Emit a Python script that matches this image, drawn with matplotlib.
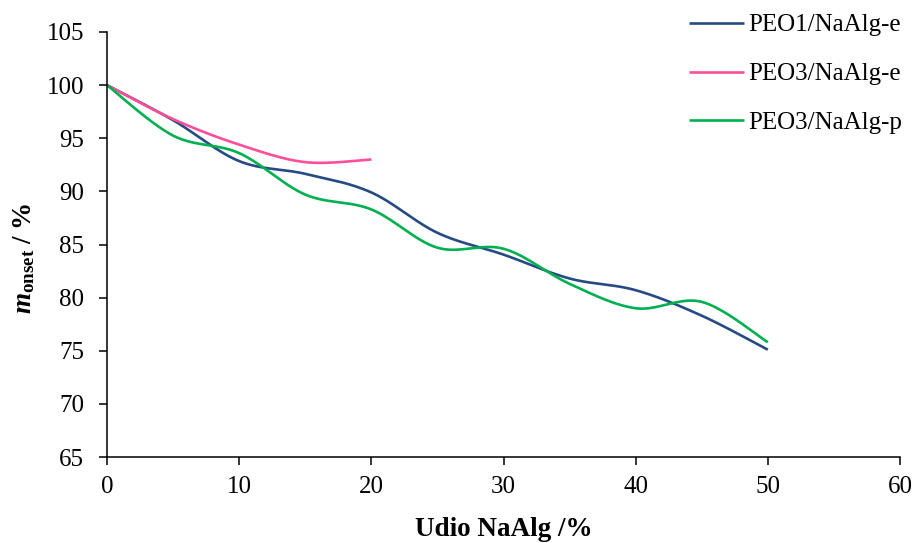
import numpy as np
import matplotlib
matplotlib.use("Agg")
import matplotlib.pyplot as plt

# -------------------- Data --------------------
udio = [0, 5, 10, 15, 20, 25, 30, 35, 40, 45, 50]
udio_peo3e = [0, 5, 10, 15, 20]

peo1_e = [100, 96.7, 92.85, 91.65, 89.9, 86.1, 84.05, 81.8, 80.7, 78.3, 75.1]
peo3_e = [100, 96.8, 94.4, 92.75, 93.0]
peo3_p = [100, 95.25, 93.6, 89.7, 88.3, 84.7, 84.6, 81.3, 79.0, 79.6, 75.8]

labels = ["PEO1/NaAlg-e", "PEO3/NaAlg-e", "PEO3/NaAlg-p"]
colors = ["#264B84", "#FF4F9A", "#00B050"]


def smooth(x, y, n=40):
    # Excel-like smoothed line (Bezier through points, Catmull-Rom style)
    x = np.asarray(x, float)
    y = np.asarray(y, float)
    px = np.concatenate([[x[0]], x, [x[-1]]])
    py = np.concatenate([[y[0]], y, [y[-1]]])
    xs, ys = [], []
    t = np.linspace(0, 1, n)
    for i in range(1, len(px) - 2):
        p0 = np.array([px[i], py[i]])
        p3 = np.array([px[i + 1], py[i + 1]])
        p1 = p0 + (np.array([px[i + 1], py[i + 1]]) - np.array([px[i - 1], py[i - 1]])) / 6
        p2 = p3 - (np.array([px[i + 2], py[i + 2]]) - np.array([px[i], py[i]])) / 6
        b = ((1 - t) ** 3)[:, None] * p0 + (3 * (1 - t) ** 2 * t)[:, None] * p1 \
            + (3 * (1 - t) * t ** 2)[:, None] * p2 + (t ** 3)[:, None] * p3
        xs.append(b[:, 0])
        ys.append(b[:, 1])
    return np.concatenate(xs), np.concatenate(ys)


# -------------------- Style --------------------
plt.rcParams["font.family"] = "Liberation Serif"
plt.rcParams["mathtext.fontset"] = "custom"
plt.rcParams["mathtext.rm"] = "Liberation Serif"
plt.rcParams["mathtext.it"] = "Liberation Serif:italic"
plt.rcParams["mathtext.bf"] = "Liberation Serif:bold"
plt.rcParams["mathtext.bfit"] = "Liberation Serif:italic:bold"

fig = plt.figure(figsize=(9.17, 5.43), dpi=100)
ax = fig.add_axes([107 / 917, 1 - 457 / 543, (900 - 107) / 917, (457 - 32) / 543])

series = [(udio, peo1_e), (udio_peo3e, peo3_e), (udio, peo3_p)]
for (xv, yv), lab, col in zip(series, labels, colors):
    sx, sy = smooth(xv, yv)
    ax.plot(sx, sy, color=col, lw=1.9, label=lab, solid_capstyle="butt")

ax.set_xlim(0, 60)
ax.set_ylim(65, 105)
ax.set_xticks(np.arange(0, 61, 10))
ax.set_yticks(np.arange(65, 106, 5))

for s in ["top", "right"]:
    ax.spines[s].set_visible(False)
for s in ["left", "bottom"]:
    ax.spines[s].set_linewidth(1.1)

ax.tick_params(axis="both", direction="out", length=5.5, width=1.1, labelsize=18)
ax.tick_params(axis="y", pad=11)
ax.tick_params(axis="x", pad=8)

ax.set_xlabel("Udio NaAlg /%", fontsize=19.5, fontweight="bold", labelpad=14)
fig.text(24 / 917, 1 - 258 / 543, r"$\mathbfit{m}_{\mathbf{onset}}\mathbf{\ /\ \%}$",
         rotation=90, ha="center", va="center", fontsize=19.5)

ax.legend(loc="upper left", bbox_to_anchor=(689 / 917, 1 - 14 / 543), bbox_transform=fig.transFigure,
          frameon=False, fontsize=18, handlelength=2.2, handletextpad=0.15,
          labelspacing=1.05, borderaxespad=0, borderpad=0)

fig.savefig("out.png", dpi=100)
plt.close(fig)
